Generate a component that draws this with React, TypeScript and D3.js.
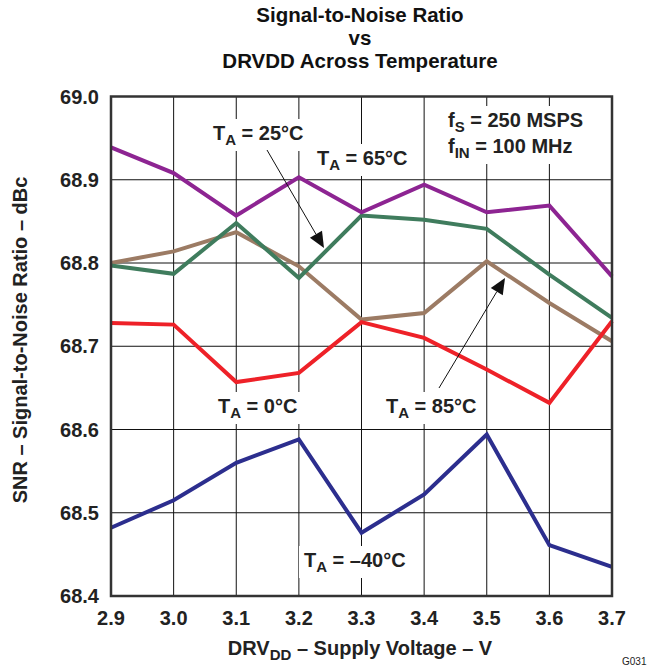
import React, { useEffect, useRef } from "react";
import * as d3 from "d3";

const voltages = [2.9, 3.0, 3.1, 3.2, 3.3, 3.4, 3.5, 3.6, 3.7];
const snr85 = [68.8, 68.814, 68.837, 68.796, 68.732, 68.74, 68.802, 68.752, 68.706];
const snr25 = [68.797, 68.787, 68.848, 68.782, 68.857, 68.852, 68.841, 68.786, 68.734];
const snr65 = [68.939, 68.908, 68.857, 68.903, 68.861, 68.894, 68.861, 68.869, 68.784];
const snr0 = [68.728, 68.726, 68.657, 68.668, 68.729, 68.71, 68.672, 68.632, 68.73];
const snrM40 = [68.482, 68.515, 68.56, 68.588, 68.476, 68.522, 68.594, 68.461, 68.435];
const xTicks = [2.9, 3.0, 3.1, 3.2, 3.3, 3.4, 3.5, 3.6, 3.7];
const yTicks = [68.4, 68.5, 68.6, 68.7, 68.8, 68.9, 69.0];
const titleLines = ["Signal-to-Noise Ratio", "vs", "DRVDD Across Temperature"];

const series = [
  { name: "85", values: snr85, color: "#9C7B64" },
  { name: "25", values: snr25, color: "#3F7C5D" },
  { name: "65", values: snr65, color: "#8D2492" },
  { name: "0", values: snr0, color: "#EE2128" },
  { name: "-40", values: snrM40, color: "#2C2E8E" },
];

const FONT = "'Liberation Sans', Arial, Helvetica, sans-serif";

export default function App() {
  const ref = useRef<SVGSVGElement>(null);
  useEffect(() => {
    const svg = d3.select(ref.current);
    svg.selectAll("*").remove();
    const L = 111, R = 612, T = 96.5, B = 596;
    const x = d3.scaleLinear().domain([2.9, 3.7]).range([L, R]);
    const y = d3.scaleLinear().domain([68.4, 69.0]).range([B, T]);

    // title
    const tl = [22, 45, 68];
    titleLines.forEach((t, i) => {
      svg.append("text").attr("x", 360).attr("y", tl[i]).attr("text-anchor", "middle")
        .attr("font-family", FONT).attr("font-weight", "bold").attr("font-size", 20.5).attr("fill", "#111").text(t);
    });

    const g = svg.append("g");
    // grid
    g.selectAll(".vg").data(xTicks).enter().append("line")
      .attr("x1", (d) => x(d)).attr("x2", (d) => x(d)).attr("y1", T).attr("y2", B)
      .attr("stroke", "#111").attr("stroke-width", 1);
    g.selectAll(".hg").data(yTicks).enter().append("line")
      .attr("x1", L).attr("x2", R).attr("y1", (d) => y(d)).attr("y2", (d) => y(d))
      .attr("stroke", "#111").attr("stroke-width", 1);

    // annotation layer (white boxes go over grid)
    const ann = svg.append("g");
    const lines = svg.append("g");
    const labels = svg.append("g");

    const addLabel = (px: number, py: number, main: string, sub: string, rest: string) => {
      const t = labels.append("text").attr("x", px).attr("y", py)
        .attr("font-family", FONT).attr("font-weight", "bold").attr("font-size", 20).attr("fill", "#222");
      t.append("tspan").text(main);
      t.append("tspan").attr("font-size", 15).attr("dy", 5).text(sub);
      t.append("tspan").attr("dy", -5).text(rest);
      const bb = (t.node() as SVGTextElement).getBBox();
      ann.append("rect").attr("x", bb.x - 5).attr("y", bb.y - 3).attr("width", bb.width + 10).attr("height", bb.height + 6).attr("fill", "white");
    };
    addLabel(213, 140, "T", "A", " = 25°C");
    addLabel(317, 165, "T", "A", " = 65°C");
    addLabel(218, 413, "T", "A", " = 0°C");
    addLabel(386, 413, "T", "A", " = 85°C");
    addLabel(304, 567, "T", "A", " = –40°C");
    addLabel(448, 127, "f", "S", " = 250 MSPS");
    addLabel(448, 153, "f", "IN", " = 100 MHz");

    // data lines
    series.forEach((s) => {
      const line = d3.line<number>().x((_, i) => x(voltages[i])).y((d) => y(d));
      lines.append("path").attr("d", line(s.values) as string).attr("fill", "none")
        .attr("stroke", s.color).attr("stroke-width", 4).attr("stroke-linejoin", "miter");
    });

    // arrows
    const arrow = (x1: number, y1: number, x2: number, y2: number) => {
      const ang = Math.atan2(y2 - y1, x2 - x1);
      const len = 16, w = 7;
      const bx = x2 - len * Math.cos(ang), by = y2 - len * Math.sin(ang);
      lines.append("line").attr("x1", x1).attr("y1", y1).attr("x2", bx).attr("y2", by)
        .attr("stroke", "#111").attr("stroke-width", 1);
      const px = -Math.sin(ang), py = Math.cos(ang);
      lines.append("path").attr("d", `M${x2},${y2}L${bx + px * w},${by + py * w}L${bx - px * w},${by - py * w}Z`).attr("fill", "#111");
    };
    arrow(267, 150, 324, 248);
    arrow(439, 388, 505, 278);

    // frame
    svg.append("rect").attr("x", L).attr("y", T).attr("width", R - L).attr("height", B - T)
      .attr("fill", "none").attr("stroke", "#333").attr("stroke-width", 2.5);

    // tick labels
    svg.selectAll(".xt").data(xTicks).enter().append("text")
      .attr("x", (d) => x(d)).attr("y", 625).attr("text-anchor", "middle")
      .attr("font-family", FONT).attr("font-weight", "bold").attr("font-size", 20).attr("fill", "#222")
      .text((d) => d3.format(".1f")(d));
    svg.selectAll(".yt").data(yTicks).enter().append("text")
      .attr("x", 99).attr("y", (d) => y(d)).attr("dy", "0.36em").attr("text-anchor", "end")
      .attr("font-family", FONT).attr("font-weight", "bold").attr("font-size", 20).attr("fill", "#222")
      .text((d) => d3.format(".1f")(d));

    // axis titles
    const xt = svg.append("text").attr("x", 360).attr("y", 655).attr("text-anchor", "middle")
      .attr("font-family", FONT).attr("font-weight", "bold").attr("font-size", 20).attr("fill", "#222");
    xt.append("tspan").text("DRV");
    xt.append("tspan").attr("font-size", 15).attr("dy", 5).text("DD");
    xt.append("tspan").attr("dy", -5).text(" – Supply Voltage – V");

    svg.append("text").attr("transform", "translate(27,340) rotate(-90)").attr("text-anchor", "middle")
      .attr("font-family", FONT).attr("font-weight", "bold").attr("font-size", 20).attr("fill", "#222")
      .text("SNR – Signal-to-Noise Ratio – dBc");

    svg.append("text").attr("x", 622).attr("y", 665).attr("font-family", FONT).attr("font-size", 10).attr("fill", "#222").text("G031");
  }, []);
  return (
    <svg ref={ref} width={654} height={667} style={{ position: "absolute", left: 0, top: 0, background: "white" }} />
  );
}
